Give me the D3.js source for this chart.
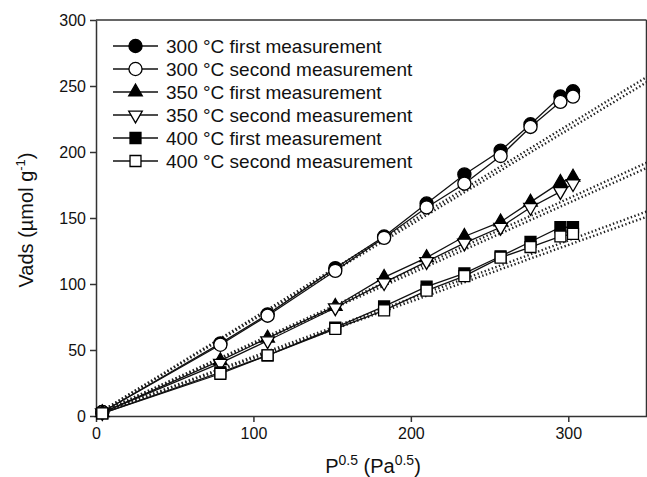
<!DOCTYPE html>
<html>
<head>
<meta charset="utf-8">
<script src="https://cdn.jsdelivr.net/npm/d3@7"></script>
<style>
  body { margin: 0; background: #fff; }
  svg { font-family: "Liberation Sans", Arial, sans-serif; }
</style>
</head>
<body>
<svg width="647" height="477"></svg>
<script>
var width = 647;
var height = 477;

// P^0.5 values where the isotherm was measured
var sqrtP = [4, 79, 109, 152, 183, 210, 234, 257, 276, 295, 303];

// adsorbed volume
var v300first  = [3, 55, 77, 112, 136, 161, 183, 201, 221, 242, 246];
var v300second = [3, 54, 76, 110, 135, 158, 176, 197, 219, 238, 242];
var v350first  = [2.5, 42, 59, 83, 105, 120, 136, 147, 162, 177, 181];
var v350second = [2.5, 40, 57, 82, 101, 117, 131, 143, 158, 170, 176];
var v400first  = [2, 33, 46, 67, 83, 98, 108, 121, 132, 143, 143];
var v400second = [2, 32, 46, 66, 80, 95, 106, 120, 128, 136, 138];

// dotted linear fits, value at x = 0 and x = 350
var fitX = [0, 350];
var fit300first  = [1, 257];
var fit300second = [1, 253];
var fit350first  = [1, 192];
var fit350second = [1, 188];
var fit400first  = [1, 155];
var fit400second = [1, 151];

var legendLabels = [
  "300 °C first measurement",
  "300 °C second measurement",
  "350 °C first measurement",
  "350 °C second measurement",
  "400 °C first measurement",
  "400 °C second measurement"
];

var xTicks = [0, 100, 200, 300];
var yTicks = [0, 50, 100, 150, 200, 250, 300];

var series = [
  { values: v300first,  fit: fit300first,  shape: d3.symbolCircle,   filled: true,  size: 135 },
  { values: v300second, fit: fit300second, shape: d3.symbolCircle,   filled: false, size: 135 },
  { values: v350first,  fit: fit350first,  shape: d3.symbolTriangle, filled: true,  size: 80 },
  { values: v350second, fit: fit350second, shape: d3.symbolTriangle, filled: false, size: 80, flip: true },
  { values: v400first,  fit: fit400first,  shape: d3.symbolSquare,   filled: true,  size: 120 },
  { values: v400second, fit: fit400second, shape: d3.symbolSquare,   filled: false, size: 120 }
];

var plotLeft = 96, plotRight = 647, plotTop = 20, plotBottom = 416;

var xScale = d3.scaleLinear().domain([0, 350]).range([plotLeft, plotRight]);
var yScale = d3.scaleLinear().domain([0, 300]).range([plotBottom, plotTop]);

var svg = d3.select("svg").attr("width", width).attr("height", height);

// frame on top and right
svg.append("line")
    .attr("x1", plotLeft).attr("x2", plotRight - 0.5)
    .attr("y1", plotTop).attr("y2", plotTop)
    .attr("stroke", "#333").attr("stroke-width", 1.5);
svg.append("line")
    .attr("x1", plotRight - 0.5).attr("x2", plotRight - 0.5)
    .attr("y1", plotTop).attr("y2", plotBottom)
    .attr("stroke", "#333").attr("stroke-width", 1.5);

// axes
var xAxis = d3.axisBottom(xScale).tickValues(xTicks).tickSize(6).tickPadding(6).tickSizeOuter(0);
var yAxis = d3.axisLeft(yScale).tickValues(yTicks).tickSize(6).tickPadding(4).tickSizeOuter(0);

var gx = svg.append("g")
    .attr("transform", `translate(0,${plotBottom})`)
    .call(xAxis);
var gy = svg.append("g")
    .attr("transform", `translate(${plotLeft},0)`)
    .call(yAxis);

[gx, gy].forEach(function(g) {
  g.attr("font-size", null).attr("font-family", null);
  g.selectAll("path, line").attr("stroke", "#333").attr("stroke-width", 1.5);
  g.selectAll("text")
      .attr("fill", "#111")
      .style("font-size", "16px");
});

// dotted fit lines
var fitLine = d3.line()
    .x((d, i) => xScale(fitX[i]))
    .y(d => yScale(d));

svg.append("g")
    .selectAll("path")
    .data(series)
    .enter()
    .append("path")
      .attr("d", d => fitLine(d.fit))
      .attr("fill", "none")
      .attr("stroke", "#222")
      .attr("stroke-width", 2.4)
      .attr("stroke-dasharray", "1.4 2.4");

// data lines and markers
var dataLine = d3.line()
    .x((d, i) => xScale(sqrtP[i]))
    .y(d => yScale(d));

var groups = svg.append("g")
    .selectAll("g")
    .data(series)
    .enter()
    .append("g");

groups.append("path")
    .attr("d", d => dataLine(d.values))
    .attr("fill", "none")
    .attr("stroke", "#111")
    .attr("stroke-width", 1.3);

groups.each(function(s) {
  d3.select(this).selectAll(".pt")
      .data(s.values)
      .enter()
      .append("path")
        .attr("class", "pt")
        .attr("d", d3.symbol().type(s.shape).size(s.size))
        .attr("transform", (d, i) => `translate(${xScale(sqrtP[i])},${yScale(d)})` + (s.flip ? " rotate(180)" : ""))
        .attr("fill", s.filled ? "#000" : "#fff")
        .attr("stroke", "#000")
        .attr("stroke-width", 1.3);
});

// legend
var legend = svg.append("g")
    .selectAll("g")
    .data(series)
    .enter()
    .append("g")
      .attr("transform", (d, i) => `translate(0,${46 + i * 23})`);

legend.append("line")
    .attr("x1", 113).attr("x2", 158)
    .attr("y1", 0).attr("y2", 0)
    .attr("stroke", "#111").attr("stroke-width", 1.3);

legend.append("path")
    .attr("d", d => d3.symbol().type(d.shape).size(d.size)())
    .attr("transform", d => "translate(135.5,0)" + (d.flip ? " rotate(180)" : ""))
    .attr("fill", d => d.filled ? "#000" : "#fff")
    .attr("stroke", "#000")
    .attr("stroke-width", 1.3);

legend.append("text")
    .attr("x", 166)
    .attr("y", 7)
    .style("font-size", "19px")
    .attr("fill", "#111")
    .text((d, i) => legendLabels[i]);

// x axis title
var xTitle = svg.append("text")
    .attr("x", 373)
    .attr("y", 473)
    .style("text-anchor", "middle")
    .style("font-size", "20px")
    .attr("fill", "#111");
xTitle.append("tspan").text("P");
xTitle.append("tspan").attr("dy", -8).style("font-size", "14px").text("0.5");
xTitle.append("tspan").attr("dy", 8).text(" (Pa");
xTitle.append("tspan").attr("dy", -8).style("font-size", "14px").text("0.5");
xTitle.append("tspan").attr("dy", 8).text(")");

// y axis title
var yTitle = svg.append("text")
    .attr("transform", "rotate(-90)")
    .attr("x", -220)
    .attr("y", 33)
    .style("text-anchor", "middle")
    .style("font-size", "20px")
    .attr("fill", "#111");
yTitle.append("tspan").text("Vads (µmol g");
yTitle.append("tspan").attr("dy", -8).style("font-size", "13px").text("-1");
yTitle.append("tspan").attr("dy", 8).text(")");
</script>
</body>
</html>
